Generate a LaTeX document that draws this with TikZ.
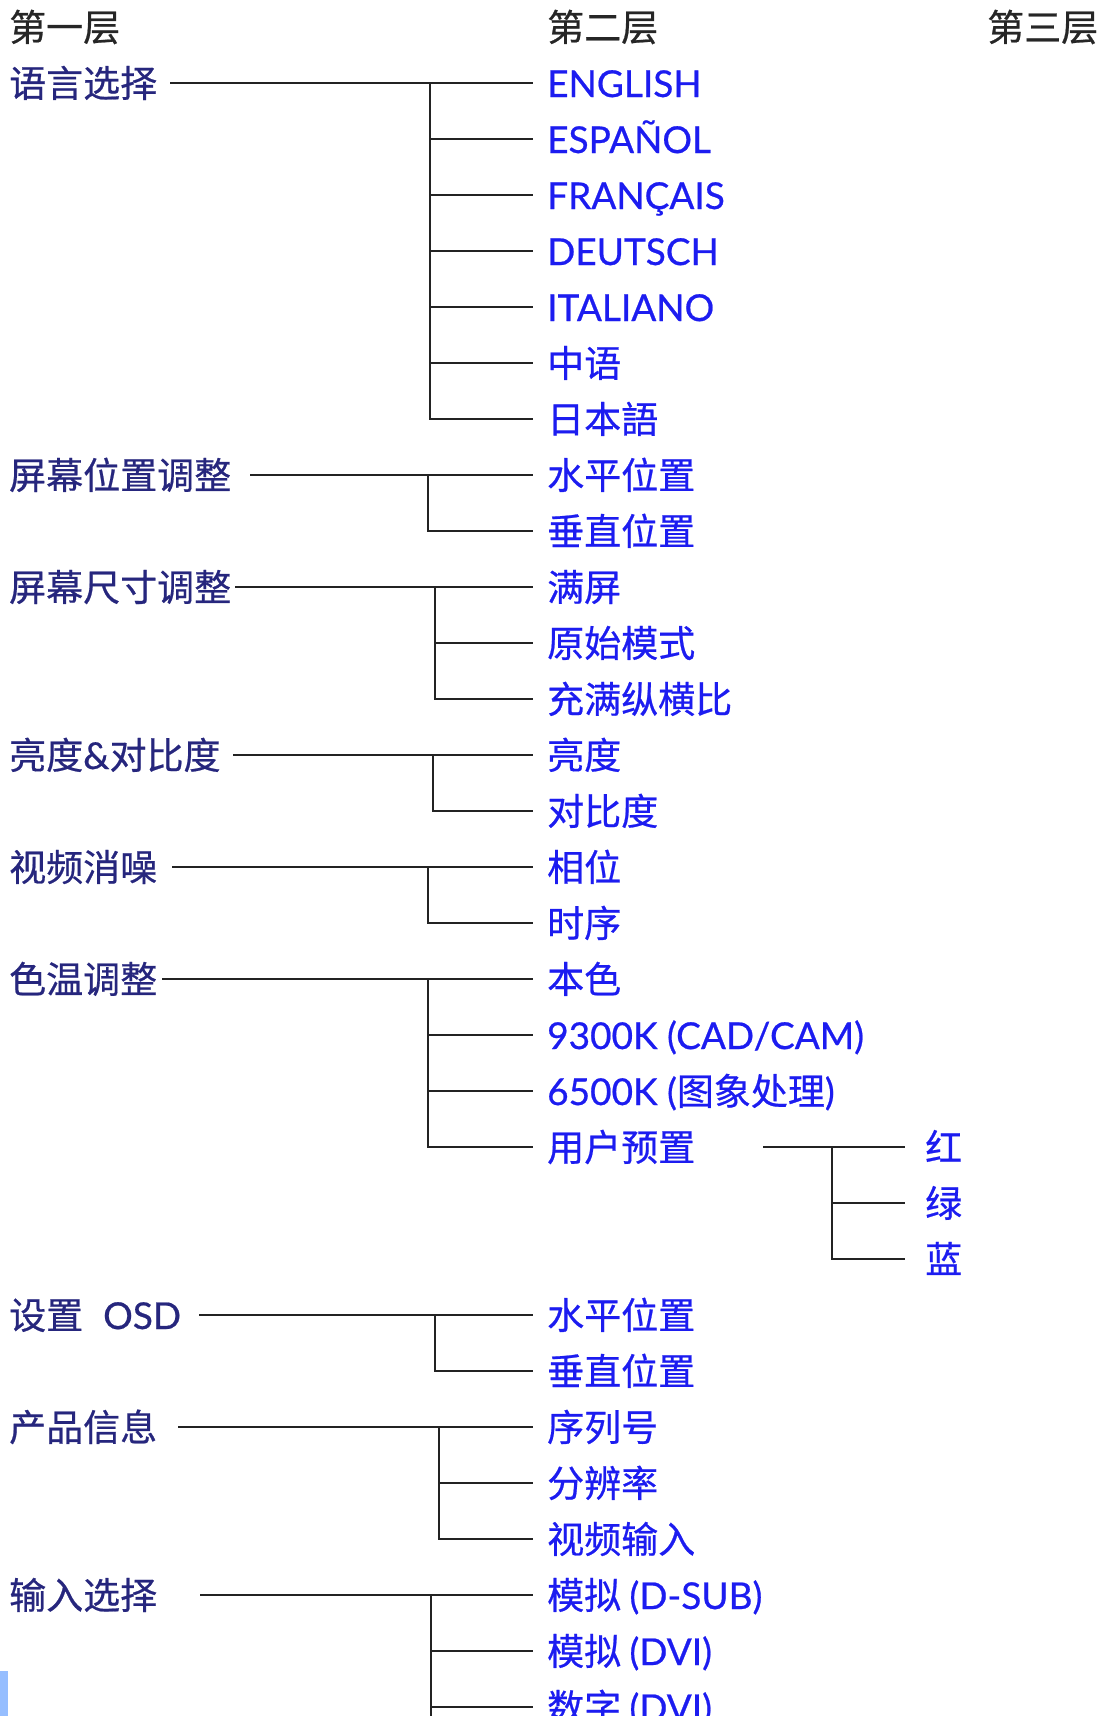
\documentclass[tikz,border=0pt]{standalone}
\usepackage{fontspec}
\setmainfont{Noto Sans CJK SC}[BoldFont={Noto Sans CJK SC},BoldFeatures={FakeBold=0.6}]
\newfontfamily\lat{Lato}[BoldFont={Lato},BoldFeatures={FakeBold=0.6}]
\definecolor{NavyText}{RGB}{38,38,125}
\definecolor{MenuBlue}{RGB}{28,28,240}
\definecolor{LineGray}{RGB}{35,35,35}
\definecolor{BarBlue}{RGB}{150,190,255}
\usetikzlibrary{calc}

\begin{document}
\begin{tikzpicture}[x=1pt,y=-1pt,
  every node/.style={font=\fontsize{37}{42}\selectfont\bfseries,anchor=west,
    inner ysep=0pt,text height=32.5pt,text depth=4.5pt},
  hd/.style={inner xsep=0pt,text=black!85},
  lone/.style={inner xsep=0pt,text=NavyText},
  ltwo/.style={inner xsep=14pt,text=MenuBlue},
  conn/.style={LineGray,line width=2.2pt}]
\useasboundingbox (0,0) rectangle (1099,1716);
% headers
\node[hd] (h1) at (9,27) {第一层};
\node[hd] (h2) at (547,27) {第二层};
\node[hd] (h3) at (987,27) {第三层};
% language
\node[lone] (lang) at (9,83) {语言选择};
\foreach \t [count=\i] in {{\lat ENGLISH},{\lat ESPAÑOL},{\lat FRANÇAIS},{\lat DEUTSCH},{\lat ITALIANO},中语,日本語}
  \node[ltwo] (lang\i) at (533,{83+56*(\i-1)}) {\t};
\coordinate (lang-s) at (170,83);
\coordinate (lang-j) at (430,83);
\draw[conn] (lang-s) -- (lang1.west);
\draw[conn] (lang-j) |- (lang7.west);
\foreach \i in {2,...,6} \draw[conn] (lang-j |- lang\i.west) -- (lang\i.west);
% screen position
\node[lone] (pos) at (9,475) {屏幕位置调整};
\node[ltwo] (pos1) at (533,475) {水平位置};
\node[ltwo] (pos2) at (533,531) {垂直位置};
\coordinate (pos-s) at (250,475);
\coordinate (pos-j) at (428,475);
\draw[conn] (pos-s) -- (pos1.west);
\draw[conn] (pos-j) |- (pos2.west);
% screen size
\node[lone] (size) at (9,587) {屏幕尺寸调整};
\foreach \t [count=\i] in {满屏,原始模式,充满纵横比}
  \node[ltwo] (size\i) at (533,{587+56*(\i-1)}) {\t};
\coordinate (size-s) at (235,587);
\coordinate (size-j) at (435,587);
\draw[conn] (size-s) -- (size1.west);
\draw[conn] (size-j) |- (size3.west);
\draw[conn] (size-j |- size2.west) -- (size2.west);
% brightness & contrast
\node[lone] (bc) at (9,755) {亮度{\lat\&}对比度};
\node[ltwo] (bc1) at (533,755) {亮度};
\node[ltwo] (bc2) at (533,811) {对比度};
\coordinate (bc-s) at (233,755);
\coordinate (bc-j) at (433,755);
\draw[conn] (bc-s) -- (bc1.west);
\draw[conn] (bc-j) |- (bc2.west);
% video noise
\node[lone] (vn) at (9,867) {视频消噪};
\node[ltwo] (vn1) at (533,867) {相位};
\node[ltwo] (vn2) at (533,923) {时序};
\coordinate (vn-s) at (172,867);
\coordinate (vn-j) at (428,867);
\draw[conn] (vn-s) -- (vn1.west);
\draw[conn] (vn-j) |- (vn2.west);
% colour temperature
\node[lone] (ct) at (9,979) {色温调整};
\foreach \t [count=\i] in {本色,{\lat 9300K (CAD/CAM)},{{\lat 6500K (}图象处理{\lat )}},用户预置}
  \node[ltwo] (ct\i) at (533,{979+56*(\i-1)}) {\t};
\coordinate (ct-s) at (162,979);
\coordinate (ct-j) at (428,979);
\draw[conn] (ct-s) -- (ct1.west);
\draw[conn] (ct-j) |- (ct4.west);
\foreach \i in {2,3} \draw[conn] (ct-j |- ct\i.west) -- (ct\i.west);
% user preset, third level
\foreach \t [count=\i] in {红,绿,蓝}
  \node[ltwo,inner xsep=20pt] (rgb\i) at (905,{1147+56*(\i-1)}) {\t};
\coordinate (rgb-s) at (763,1147);
\coordinate (rgb-j) at (832,1147);
\draw[conn] (rgb-s) -- (rgb1.west);
\draw[conn] (rgb-j) |- (rgb3.west);
\draw[conn] (rgb-j |- rgb2.west) -- (rgb2.west);
% OSD
\node[lone] (osd) at (9,1315) {设置\hspace{20pt}{\lat OSD}};
\node[ltwo] (osd1) at (533,1315) {水平位置};
\node[ltwo] (osd2) at (533,1371) {垂直位置};
\coordinate (osd-s) at (199,1315);
\coordinate (osd-j) at (435,1315);
\draw[conn] (osd-s) -- (osd1.west);
\draw[conn] (osd-j) |- (osd2.west);
% product info
\node[lone] (info) at (9,1427) {产品信息};
\foreach \t [count=\i] in {序列号,分辨率,视频输入}
  \node[ltwo] (info\i) at (533,{1427+56*(\i-1)}) {\t};
\coordinate (info-s) at (178,1427);
\coordinate (info-j) at (439,1427);
\draw[conn] (info-s) -- (info1.west);
\draw[conn] (info-j) |- (info3.west);
\draw[conn] (info-j |- info2.west) -- (info2.west);
% input select
\node[lone] (inp) at (9,1595) {输入选择};
\foreach \t [count=\i] in {{模拟 {\lat (D-SUB)}},{模拟 {\lat (DVI)}},{数字 {\lat (DVI)}}}
  \node[ltwo] (inp\i) at (533,{1595+56*(\i-1)}) {\t};
\coordinate (inp-s) at (200,1595);
\coordinate (inp-j) at (431,1595);
\coordinate (inp-e) at (431,1730);
\draw[conn] (inp-s) -- (inp1.west);
\draw[conn] (inp-j) -- (inp-e);
\foreach \i in {2,3} \draw[conn] (inp-j |- inp\i.west) -- (inp\i.west);
% side marker
\fill[BarBlue] (0,1671) rectangle (8,1716);
\end{tikzpicture}
\end{document}
